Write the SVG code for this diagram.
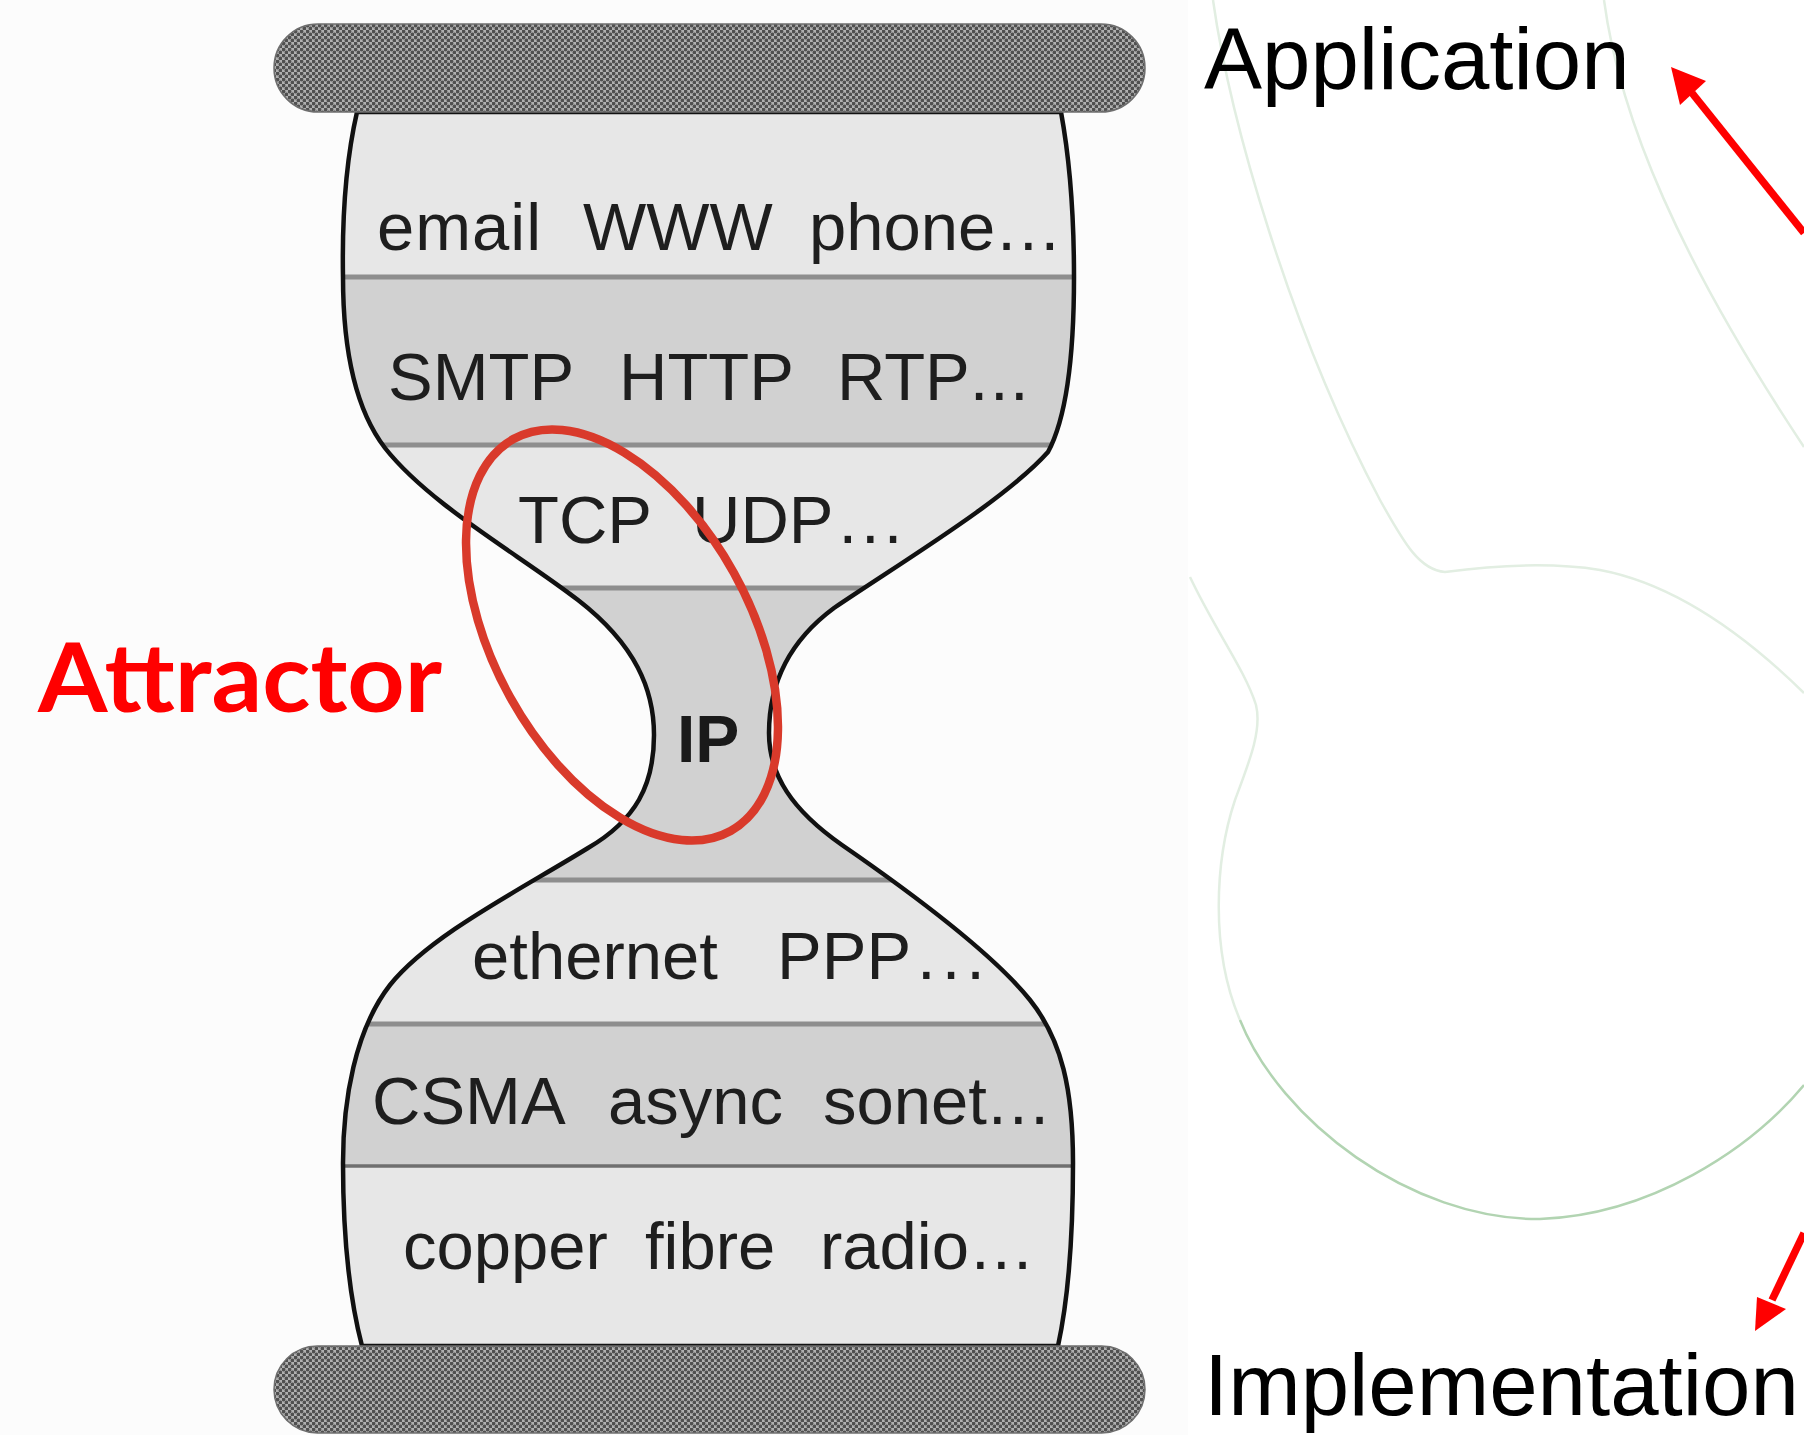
<svg xmlns="http://www.w3.org/2000/svg" width="1804" height="1435" viewBox="0 0 1804 1435">
  <style>
    .lbl { font-family: "Liberation Sans", Arial, sans-serif; font-size: 67px; fill: #1e1e1e; }
    .lblb { font-family: "Liberation Sans", Arial, sans-serif; font-size: 66px; font-weight: bold; fill: #1a1a1a; }
    .side { font-family: "Liberation Sans", Arial, sans-serif; font-size: 87px; fill: #000; }
    .light { fill: #e7e7e7; }
    .dark { fill: #d1d1d1; }
    .sep { stroke: #8e8e8e; stroke-width: 5; fill: none; }
    .bar { fill: url(#dots); stroke: #6e6e6e; stroke-width: 1.5; }
    .green { fill: none; stroke: #e2eee2; stroke-width: 2.5; }
    .arrow { stroke: #ff0000; stroke-width: 7.5; fill: none; }
  </style>
  <defs>
    <pattern id="dots" width="6" height="6" patternUnits="userSpaceOnUse">
      <rect width="6" height="6" fill="#b0b0b0"/>
      <circle cx="1.5" cy="1.5" r="1.9" fill="#505050"/>
      <circle cx="4.5" cy="4.5" r="1.9" fill="#505050"/>
    </pattern>
    <path id="outline" d="M 357 112
      C 346 160, 342 220, 343 277
      C 343 340, 352 405, 385 448
      C 430 505, 520 555, 578 600
      C 636 645, 654 690, 654 735
      C 654 785, 636 820, 588 848
      C 520 890, 430 935, 390 985
      C 355 1030, 343 1100, 343 1163
      C 343 1240, 350 1300, 362 1346
      L 1058 1346
      C 1068 1300, 1073 1240, 1073 1163
      C 1073 1090, 1062 1040, 1030 1000
      C 990 950, 900 885, 842 845
      C 792 810, 769 775, 769 733
      C 769 690, 784 645, 834 608
      C 905 560, 1005 500, 1048 452
      C 1068 415, 1074 350, 1074 277
      C 1074 200, 1068 150, 1061 112 Z"/>
    <clipPath id="glass"><use href="#outline"/></clipPath>
  </defs>

  <rect x="0" y="0" width="1804" height="1435" fill="#ffffff"/>
  <rect x="0" y="0" width="1188" height="1435" fill="#fcfcfc"/>

  <!-- faint green outline shapes on the right -->
  <g id="backdrop">
    <path class="green" d="M 1213 0 C 1230 120, 1290 330, 1380 500 C 1405 545, 1420 570, 1445 572 C 1490 566, 1550 562, 1600 570 C 1680 585, 1750 640, 1804 693"/>
    <path class="green" d="M 1604 0 C 1620 120, 1680 260, 1804 447"/>
    <path class="green" d="M 1190 577 C 1215 630, 1245 670, 1256 705 C 1262 730, 1250 760, 1235 800 C 1215 860, 1210 950, 1240 1020"/>
    <path class="green" style="stroke:#b2d4b2" d="M 1240 1020 C 1280 1120, 1410 1220, 1540 1219 C 1650 1215, 1750 1150, 1804 1085"/>
  </g>

  <!-- hourglass body with its protocol layers -->
  <g id="hourglass">
    <g clip-path="url(#glass)">
      <rect id="layer-app" class="light" x="300" y="100" width="820" height="177"/>
      <rect id="layer-proto" class="dark" x="300" y="277" width="820" height="168"/>
      <rect id="layer-transport" class="light" x="300" y="445" width="820" height="143"/>
      <rect id="layer-ip" class="dark" x="300" y="588" width="820" height="292"/>
      <rect id="layer-link" class="light" x="300" y="880" width="820" height="144"/>
      <rect id="layer-mac" class="dark" x="300" y="1024" width="820" height="142"/>
      <rect id="layer-phys" class="light" x="300" y="1166" width="820" height="190"/>
      <line class="sep" x1="300" y1="277" x2="1120" y2="277"/>
      <line class="sep" x1="300" y1="445" x2="1120" y2="445"/>
      <line class="sep" x1="300" y1="588" x2="1120" y2="588"/>
      <line class="sep" x1="300" y1="880" x2="1120" y2="880"/>
      <line class="sep" x1="300" y1="1024" x2="1120" y2="1024"/>
      <line class="sep" style="stroke:#6f6f6f;stroke-width:3.5" x1="300" y1="1166" x2="1120" y2="1166"/>
    </g>
    <use href="#outline" fill="none" stroke="#111" stroke-width="4.5"/>
  </g>

  <g id="bars">
    <rect id="bar-top" class="bar" x="274" y="24" width="871" height="88" rx="44"/>
    <rect id="bar-bottom" class="bar" x="274" y="1346" width="871" height="87" rx="43.5"/>
  </g>

  <g id="layer-labels">
    <g id="row-app">
      <text class="lbl" x="377" y="250" letter-spacing="1">email</text>
      <text class="lbl" x="583" y="250">WWW</text>
      <text class="lbl" x="809" y="250">phone<tspan dx="2" letter-spacing="3">...</tspan></text>
    </g>
    <g id="row-proto">
      <text class="lbl" x="388" y="400">SMTP</text>
      <text class="lbl" x="619" y="400">HTTP</text>
      <text class="lbl" x="837" y="400">RTP<tspan letter-spacing="1.5">...</tspan></text>
    </g>
    <g id="row-transport">
      <text class="lbl" x="518" y="543">TCP</text>
      <text class="lbl" x="692" y="543">UDP<tspan dx="5" letter-spacing="4">...</tspan></text>
    </g>
    <g id="row-ip">
      <text class="lblb" x="677" y="762">IP</text>
    </g>
    <g id="row-link">
      <text class="lbl" x="472" y="979">ethernet</text>
      <text class="lbl" x="777" y="979">PPP<tspan dx="6" letter-spacing="6">...</tspan></text>
    </g>
    <g id="row-mac">
      <text class="lbl" x="372" y="1124">CSMA</text>
      <text class="lbl" x="608" y="1124">async</text>
      <text class="lbl" x="823" y="1124">sonet<tspan dx="1" letter-spacing="2.5">...</tspan></text>
    </g>
    <g id="row-phys">
      <text class="lbl" x="403" y="1269">copper</text>
      <text class="lbl" x="645" y="1269">fibre</text>
      <text class="lbl" x="820" y="1269">radio<tspan dx="2" letter-spacing="2.5">...</tspan></text>
    </g>
  </g>

  <!-- attractor ring around the narrow waist -->
  <g id="attractor">
    <ellipse cx="622" cy="635" rx="128" ry="224" transform="rotate(-29 622 635)" fill="none" stroke="#d93a2b" stroke-width="8.5"/>
    <text x="38" y="712" font-family="Lato, 'Open Sans', sans-serif" font-weight="bold" font-size="96" fill="#ff0000" textLength="404" lengthAdjust="spacingAndGlyphs">Attractor</text>
  </g>

  <g id="application">
    <text class="side" x="1204" y="89">Application</text>
  </g>
  <g id="implementation">
    <text class="side" x="1204" y="1415">Implementation</text>
  </g>

  <g id="connectors">
    <line class="arrow" x1="1804" y1="233" x2="1692" y2="93"/>
    <polygon points="1671,67 1706,81 1680,105" fill="#ff0000"/>
    <line class="arrow" x1="1804" y1="1233" x2="1772" y2="1300"/>
    <polygon points="1755,1331 1786,1309 1757,1297" fill="#ff0000"/>
  </g>
</svg>
